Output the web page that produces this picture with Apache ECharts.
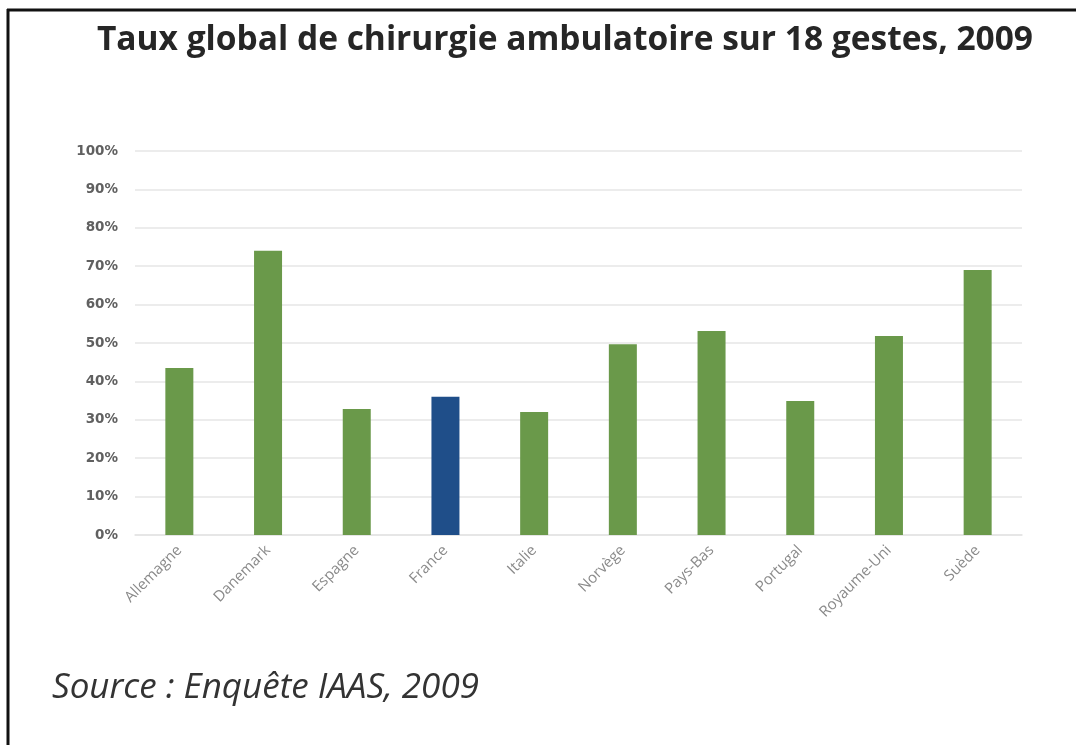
<!DOCTYPE html>
<html>
<head>
<meta charset="utf-8">
<script src="https://cdn.jsdelivr.net/npm/echarts@6/dist/echarts.min.js"></script>
<style>
  html, body { margin: 0; padding: 0; background: #fff; }
  #chart { width: 1076px; height: 745px; }
</style>
</head>
<body>
<div id="chart"></div>
<script>
const countries = ['Allemagne', 'Danemark', 'Espagne', 'France', 'Italie', 'Norvège', 'Pays-Bas', 'Portugal', 'Royaume-Uni', 'Suède']
const rates = [43.5, 74, 32.8, 36, 32, 49.7, 53.1, 34.9, 51.8, 69]
const highlight = 'France'

const green = '#6a994a'
const blue = '#1f4e89'

const chart = echarts.init(document.getElementById('chart'))

const option = {
  backgroundColor: '#fff',
  animation: false,
  title: {
    text: 'Taux global de chirurgie ambulatoire sur 18 gestes, 2009',
    left: 560,
    textAlign: 'center',
    top: 18,
    textStyle: { color: '#262626', fontWeight: 'bold', fontSize: 33.5, fontFamily: 'Open Sans' }
  },
  grid: { left: 135, right: 54, top: 151, bottom: 210 },
  xAxis: {
    type: 'category',
    data: countries,
    axisTick: { show: false },
    axisLine: { lineStyle: { color: '#e3e3e3', width: 1.5 } },
    axisLabel: { color: '#8a8a8a', fontSize: 15, rotate: 45, margin: 13, fontFamily: 'Open Sans' }
  },
  yAxis: {
    type: 'value',
    min: 0,
    max: 100,
    interval: 10,
    axisLabel: { formatter: '{value}%', color: '#606060', fontSize: 13.5, fontWeight: 'bold', margin: 17, fontFamily: 'DejaVu Sans' },
    splitLine: { lineStyle: { color: '#e6e6e6', width: 1.5 } }
  },
  series: [
    {
      type: 'bar',
      barWidth: 28,
      data: rates.map((v, i) => ({
        value: v,
        itemStyle: { color: countries[i] === highlight ? blue : green }
      }))
    }
  ],
  graphic: [
    { type: 'line', shape: { x1: 7, y1: 10, x2: 1076, y2: 10 }, style: { stroke: '#111', lineWidth: 3 } },
    { type: 'line', shape: { x1: 8, y1: 9, x2: 8, y2: 745 }, style: { stroke: '#111', lineWidth: 3 } },
    {
      type: 'text',
      left: 52,
      top: 671,
      style: { text: 'Source : Enquête IAAS, 2009', fill: '#333', font: 'italic 35px "Open Sans"' }
    }
  ]
}

chart.setOption(option)
</script>
</body>
</html>
